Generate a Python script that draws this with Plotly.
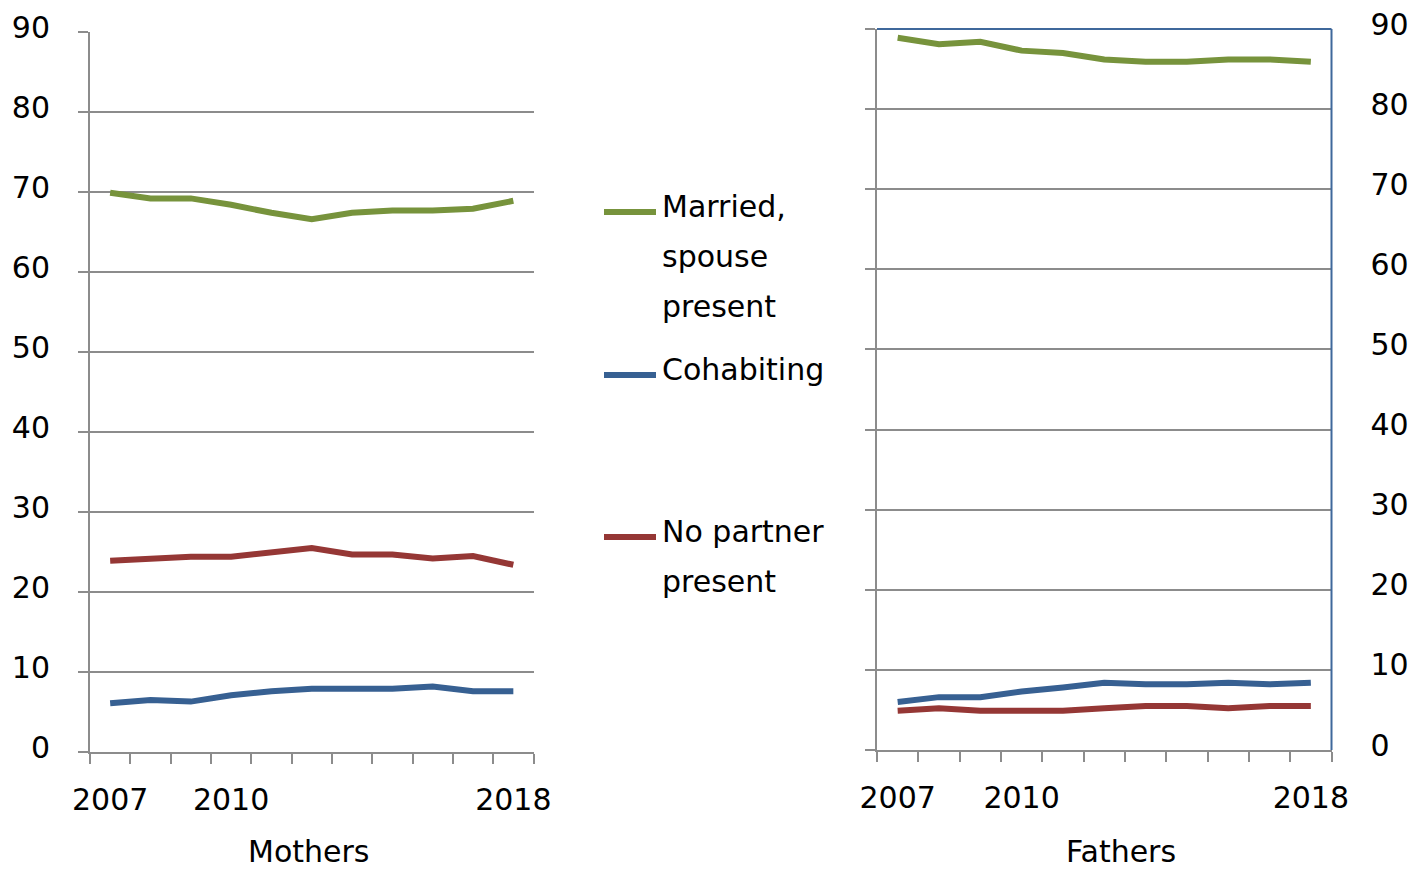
import plotly.graph_objects as go

OFF = 0  # body margin removed via post_script
W, H = 1411, 871

years = ['2007', '2008', '2009', '2010', '2011', '2012', '2013', '2014', '2015', '2016', '2018']
tick_labels = ['2007', '', '', '2010', '', '', '', '', '', '', '2018']

mothers_married = [69.9, 69.2, 69.2, 68.4, 67.4, 66.6, 67.4, 67.7, 67.7, 67.9, 68.9]
mothers_cohab = [6.1, 6.5, 6.3, 7.1, 7.6, 7.9, 7.9, 7.9, 8.2, 7.6, 7.6]
mothers_nopartner = [23.9, 24.1, 24.4, 24.4, 25.0, 25.5, 24.7, 24.7, 24.2, 24.5, 23.4]

fathers_married = [88.9, 88.1, 88.4, 87.3, 87.0, 86.2, 85.9, 85.9, 86.2, 86.2, 85.9]
fathers_cohab = [6.0, 6.6, 6.6, 7.3, 7.8, 8.4, 8.2, 8.2, 8.4, 8.2, 8.4]
fathers_nopartner = [4.9, 5.2, 4.9, 4.9, 4.9, 5.2, 5.5, 5.5, 5.2, 5.5, 5.5]

series_names = ['Married, spouse present', 'Cohabiting', 'No partner present']
colors = ['#77933C', '#376092', '#953735']
legend_lines = [['Married,', 'spouse', 'present'], ['Cohabiting'], ['No partner', 'present']]

FONT = 'DejaVu Sans'
FS = 30
GRID = '#8C8C8C'
BORDER = '#3F689B'
LW = 6


def px(x):
    return (x - OFF) / W


def py(y):
    return 1 - (y - OFF) / H


fig = go.Figure()

for vals, name, col in zip([mothers_married, mothers_cohab, mothers_nopartner], series_names, colors):
    fig.add_trace(go.Scatter(x=years, y=vals, name=name, mode='lines',
                             line=dict(color=col, width=LW), xaxis='x', yaxis='y', showlegend=False))
for vals, name, col in zip([fathers_married, fathers_cohab, fathers_nopartner], series_names, colors):
    fig.add_trace(go.Scatter(x=years, y=vals, name=name, mode='lines',
                             line=dict(color=col, width=LW), xaxis='x2', yaxis='y2', showlegend=False))

xcommon = dict(type='category', categoryorder='array', categoryarray=years,
               range=[-0.5, len(years) - 0.5], tickson='boundaries',
               ticks='outside', ticklen=10, tickwidth=2, tickcolor=GRID,
               showline=True, linecolor=GRID, linewidth=2, showgrid=False,
               tickmode='array', tickvals=years, ticktext=tick_labels, tickangle=0,
               automargin=False, ticklabeloverflow='allow',
               tickfont=dict(family=FONT, size=FS, color='black'), ticklabelstandoff=20)

ycommon = dict(range=[0, 90], dtick=10, tick0=0, showgrid=True, gridcolor=GRID, gridwidth=1.5,
               ticks='outside', ticklen=10, tickwidth=1.5, tickcolor=GRID,
               showline=True, linecolor=GRID, linewidth=2, zeroline=False, automargin=False,
               ticklabeloverflow='allow',
               tickfont=dict(family=FONT, size=FS, color='black'))

fig.update_layout(
    width=W, height=H,
    margin=dict(l=0, r=0, t=0, b=0),
    paper_bgcolor='white', plot_bgcolor='white',
    showlegend=False,
    xaxis=dict(domain=[px(90), px(533.5)], anchor='y', **xcommon),
    yaxis=dict(domain=[py(752), py(32)], anchor='x', ticklabelstandoff=22, ticklabelshift=-5, **ycommon),
    xaxis2=dict(domain=[px(877), px(1331.5)], anchor='y2', **xcommon),
    yaxis2=dict(domain=[py(750), py(29)], anchor='x2', side='left', showticklabels=False, **ycommon),
    yaxis3=dict(overlaying='y2', anchor='x2', side='right', range=[0, 90], dtick=10, tick0=0,
                showgrid=False, zeroline=False, showline=False, ticks='', automargin=False,
                ticklabeloverflow='allow',
                tickfont=dict(family=FONT, size=FS, color='black'),
                ticklabelstandoff=38, ticklabelshift=-5),
)

# dummy trace for the right-hand label axis
fig.add_trace(go.Scatter(x=[years[0]], y=[None], xaxis='x2', yaxis='y3', showlegend=False,
                         mode='lines', hoverinfo='skip'))

# blue border of the right-hand plot area (top and right)
fig.add_shape(type='line', xref='x2 domain', yref='y2 domain', x0=0, x1=1, y0=1, y1=1,
              line=dict(color=BORDER, width=2))
fig.add_shape(type='line', xref='x2 domain', yref='y2 domain', x0=1, x1=1, y0=0, y1=1,
              line=dict(color=BORDER, width=2))

# panel titles
fig.add_annotation(text='Mothers', x=px(308), y=py(851), xref='paper', yref='paper',
                   showarrow=False, xanchor='center', yanchor='middle',
                   font=dict(family=FONT, size=FS, color='black'))
fig.add_annotation(text='Fathers', x=px(1121), y=py(851), xref='paper', yref='paper',
                   showarrow=False, xanchor='center', yanchor='middle',
                   font=dict(family=FONT, size=FS, color='black'))

# legend (drawn manually)
legend_symbol_y = [212, 375, 537]
legend_text_y = [[207, 257, 306], [369], [531, 581]]
for col, sy, lines, ty in zip(colors, legend_symbol_y, legend_lines, legend_text_y):
    fig.add_shape(type='line', xref='paper', yref='paper', x0=px(604), x1=px(656),
                  y0=py(sy), y1=py(sy), line=dict(color=col, width=LW))
    for t, yy in zip(lines, ty):
        fig.add_annotation(text=t, x=px(660), y=py(yy), xref='paper', yref='paper',
                           showarrow=False, xanchor='left', yanchor='middle',
                           font=dict(family=FONT, size=FS, color='black'))

fig.write_html('out.html', config={'displayModeBar': False},
               post_script="document.body.style.margin='0';document.body.style.overflow='hidden';")
